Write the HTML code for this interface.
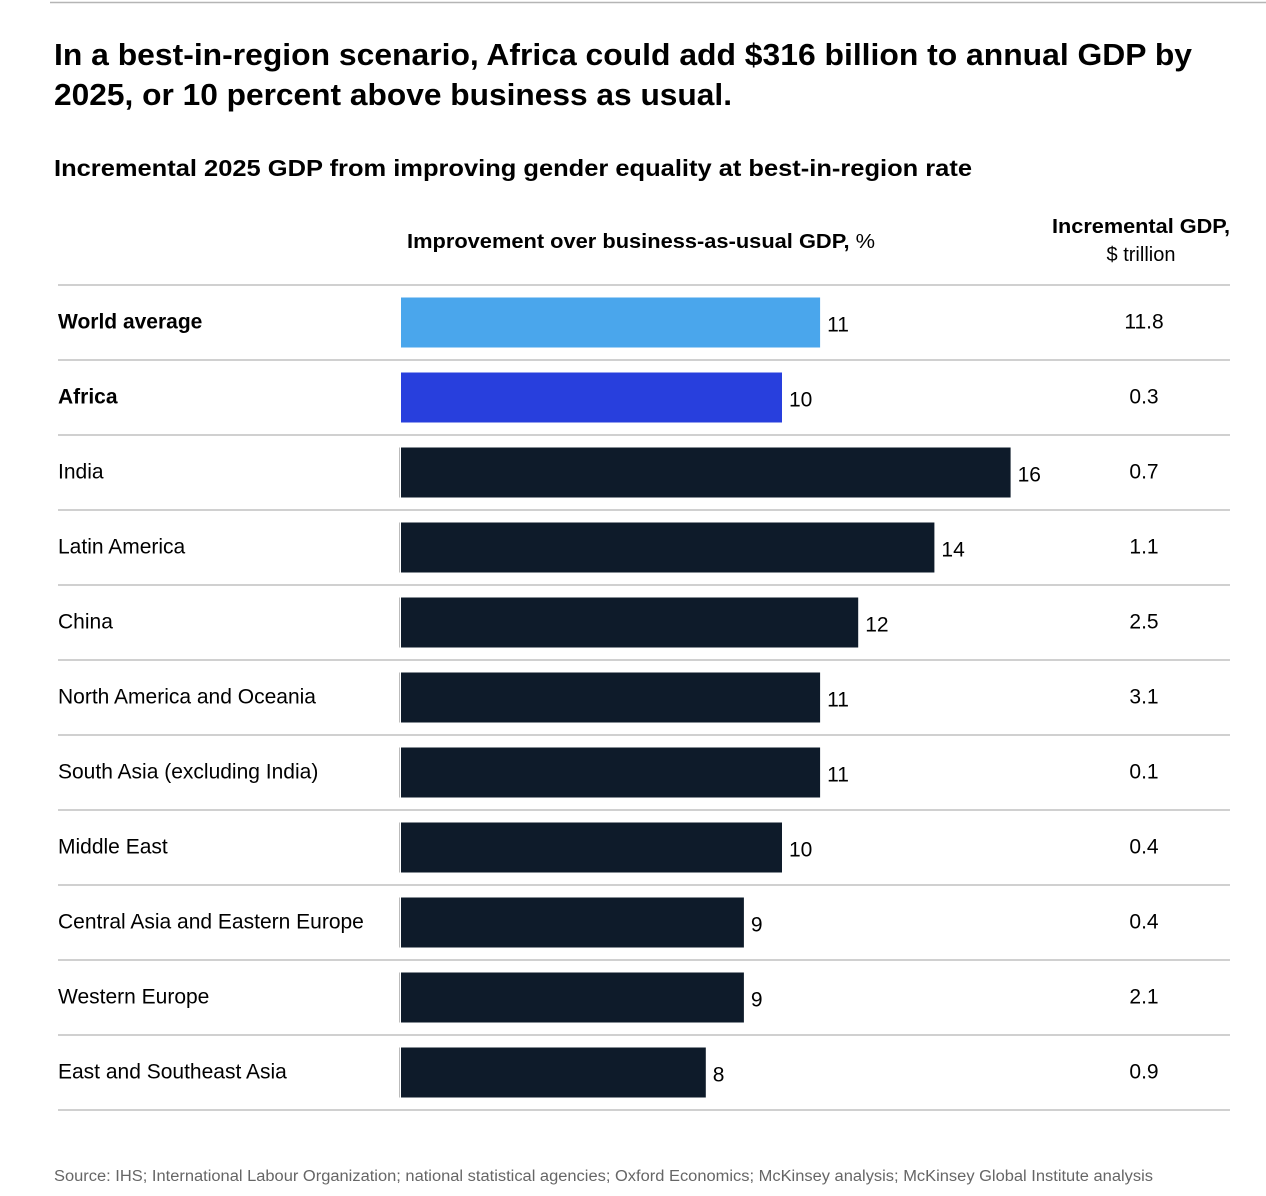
<!DOCTYPE html>
<html><head><meta charset="utf-8">
<style>
html,body{margin:0;padding:0;background:#fff;}
svg{display:block;font-family:"Liberation Sans",sans-serif;}
</style></head>
<body>
<svg id="chart" width="1266" height="1196" viewBox="0 0 1266 1196" xmlns="http://www.w3.org/2000/svg">
<line x1="50" y1="2.5" x2="1266" y2="2.5" stroke="#b5b5b5" stroke-width="1.5"/>
<text x="54" y="65" font-size="31" font-weight="bold" fill="#000" textLength="1138" lengthAdjust="spacingAndGlyphs">In a best-in-region scenario, Africa could add $316 billion to annual GDP by</text>
<text x="54" y="105" font-size="31" font-weight="bold" fill="#000" textLength="678" lengthAdjust="spacingAndGlyphs">2025, or 10 percent above business as usual.</text>
<text x="54" y="176" font-size="23" font-weight="bold" fill="#000" textLength="918" lengthAdjust="spacingAndGlyphs">Incremental 2025 GDP from improving gender equality at best-in-region rate</text>
<text x="407" y="248" font-size="20" fill="#000" textLength="468" lengthAdjust="spacingAndGlyphs"><tspan font-weight="bold">Improvement over business-as-usual GDP,</tspan> %</text>
<text x="1141" y="233" font-size="20" font-weight="bold" text-anchor="middle" fill="#000" textLength="178" lengthAdjust="spacingAndGlyphs">Incremental GDP,</text>
<text x="1141" y="261" font-size="20" text-anchor="middle" fill="#000">$ trillion</text>
<g id="rows"></g>
<text x="54" y="1181" font-size="15.5" fill="#666" textLength="1099" lengthAdjust="spacingAndGlyphs">Source: IHS; International Labour Organization; national statistical agencies; Oxford Economics; McKinsey analysis; McKinsey Global Institute analysis</text>
</svg>
<script>
const categories = ["World average","Africa","India","Latin America","China","North America and Oceania","South Asia (excluding India)","Middle East","Central Asia and Eastern Europe","Western Europe","East and Southeast Asia"];
const improvement = [11,10,16,14,12,11,11,10,9,9,8];
const incrementalGdp = ["11.8","0.3","0.7","1.1","2.5","3.1","0.1","0.4","0.4","2.1","0.9"];
const boldRows = ["World average","Africa"];

const NS = "http://www.w3.org/2000/svg";
const g = document.getElementById("rows");
const x0 = 401, pxPerUnit = 38.1, top0 = 285, rowH = 75, barH = 50;
function xScale(v){ return x0 + v * pxPerUnit; }
function mk(tag, attrs){ const e = document.createElementNS(NS, tag); for (const k in attrs) e.setAttribute(k, attrs[k]); g.appendChild(e); return e; }

const sep0 = mk("line",{x1:58,x2:1230,y1:top0,y2:top0,stroke:"#d0d0d0","stroke-width":2});



categories.forEach((c, i) => {
  const y = top0 + i * rowH;
  const mid = y + rowH / 2;
  const bold = boldRows.includes(c);
  const color = i === 0 ? "#4aa6ec" : (i === 1 ? "#283fdd" : "#0e1b2a");
  const lbl = mk("text",{x:58,y:mid+6,"font-size":21,"font-weight":bold?"bold":"normal",fill:"#000"});
  lbl.textContent = c;
  
  
  if (i > 1) {
    const edge = mk("line",{x1:399.5,x2:399.5,y1:mid-25,y2:mid+25,stroke:"#bbb","stroke-width":1});
    
    
  }
  const bar = mk("rect",{x:x0,y:mid-barH/2,width:xScale(improvement[i])-x0,height:barH,fill:color});
  
  
  const v = mk("text",{x:xScale(improvement[i])+7,y:mid+9,"font-size":21,fill:"#000"});
  v.textContent = improvement[i];
  
  
  const gd = mk("text",{x:1144,y:mid+6,"font-size":21,"text-anchor":"middle",fill:"#000"});
  gd.textContent = incrementalGdp[i];
  
  
  const sep = mk("line",{x1:58,x2:1230,y1:y+rowH,y2:y+rowH,stroke:"#d0d0d0","stroke-width":2});
  
  
});
</script>
</body></html>
